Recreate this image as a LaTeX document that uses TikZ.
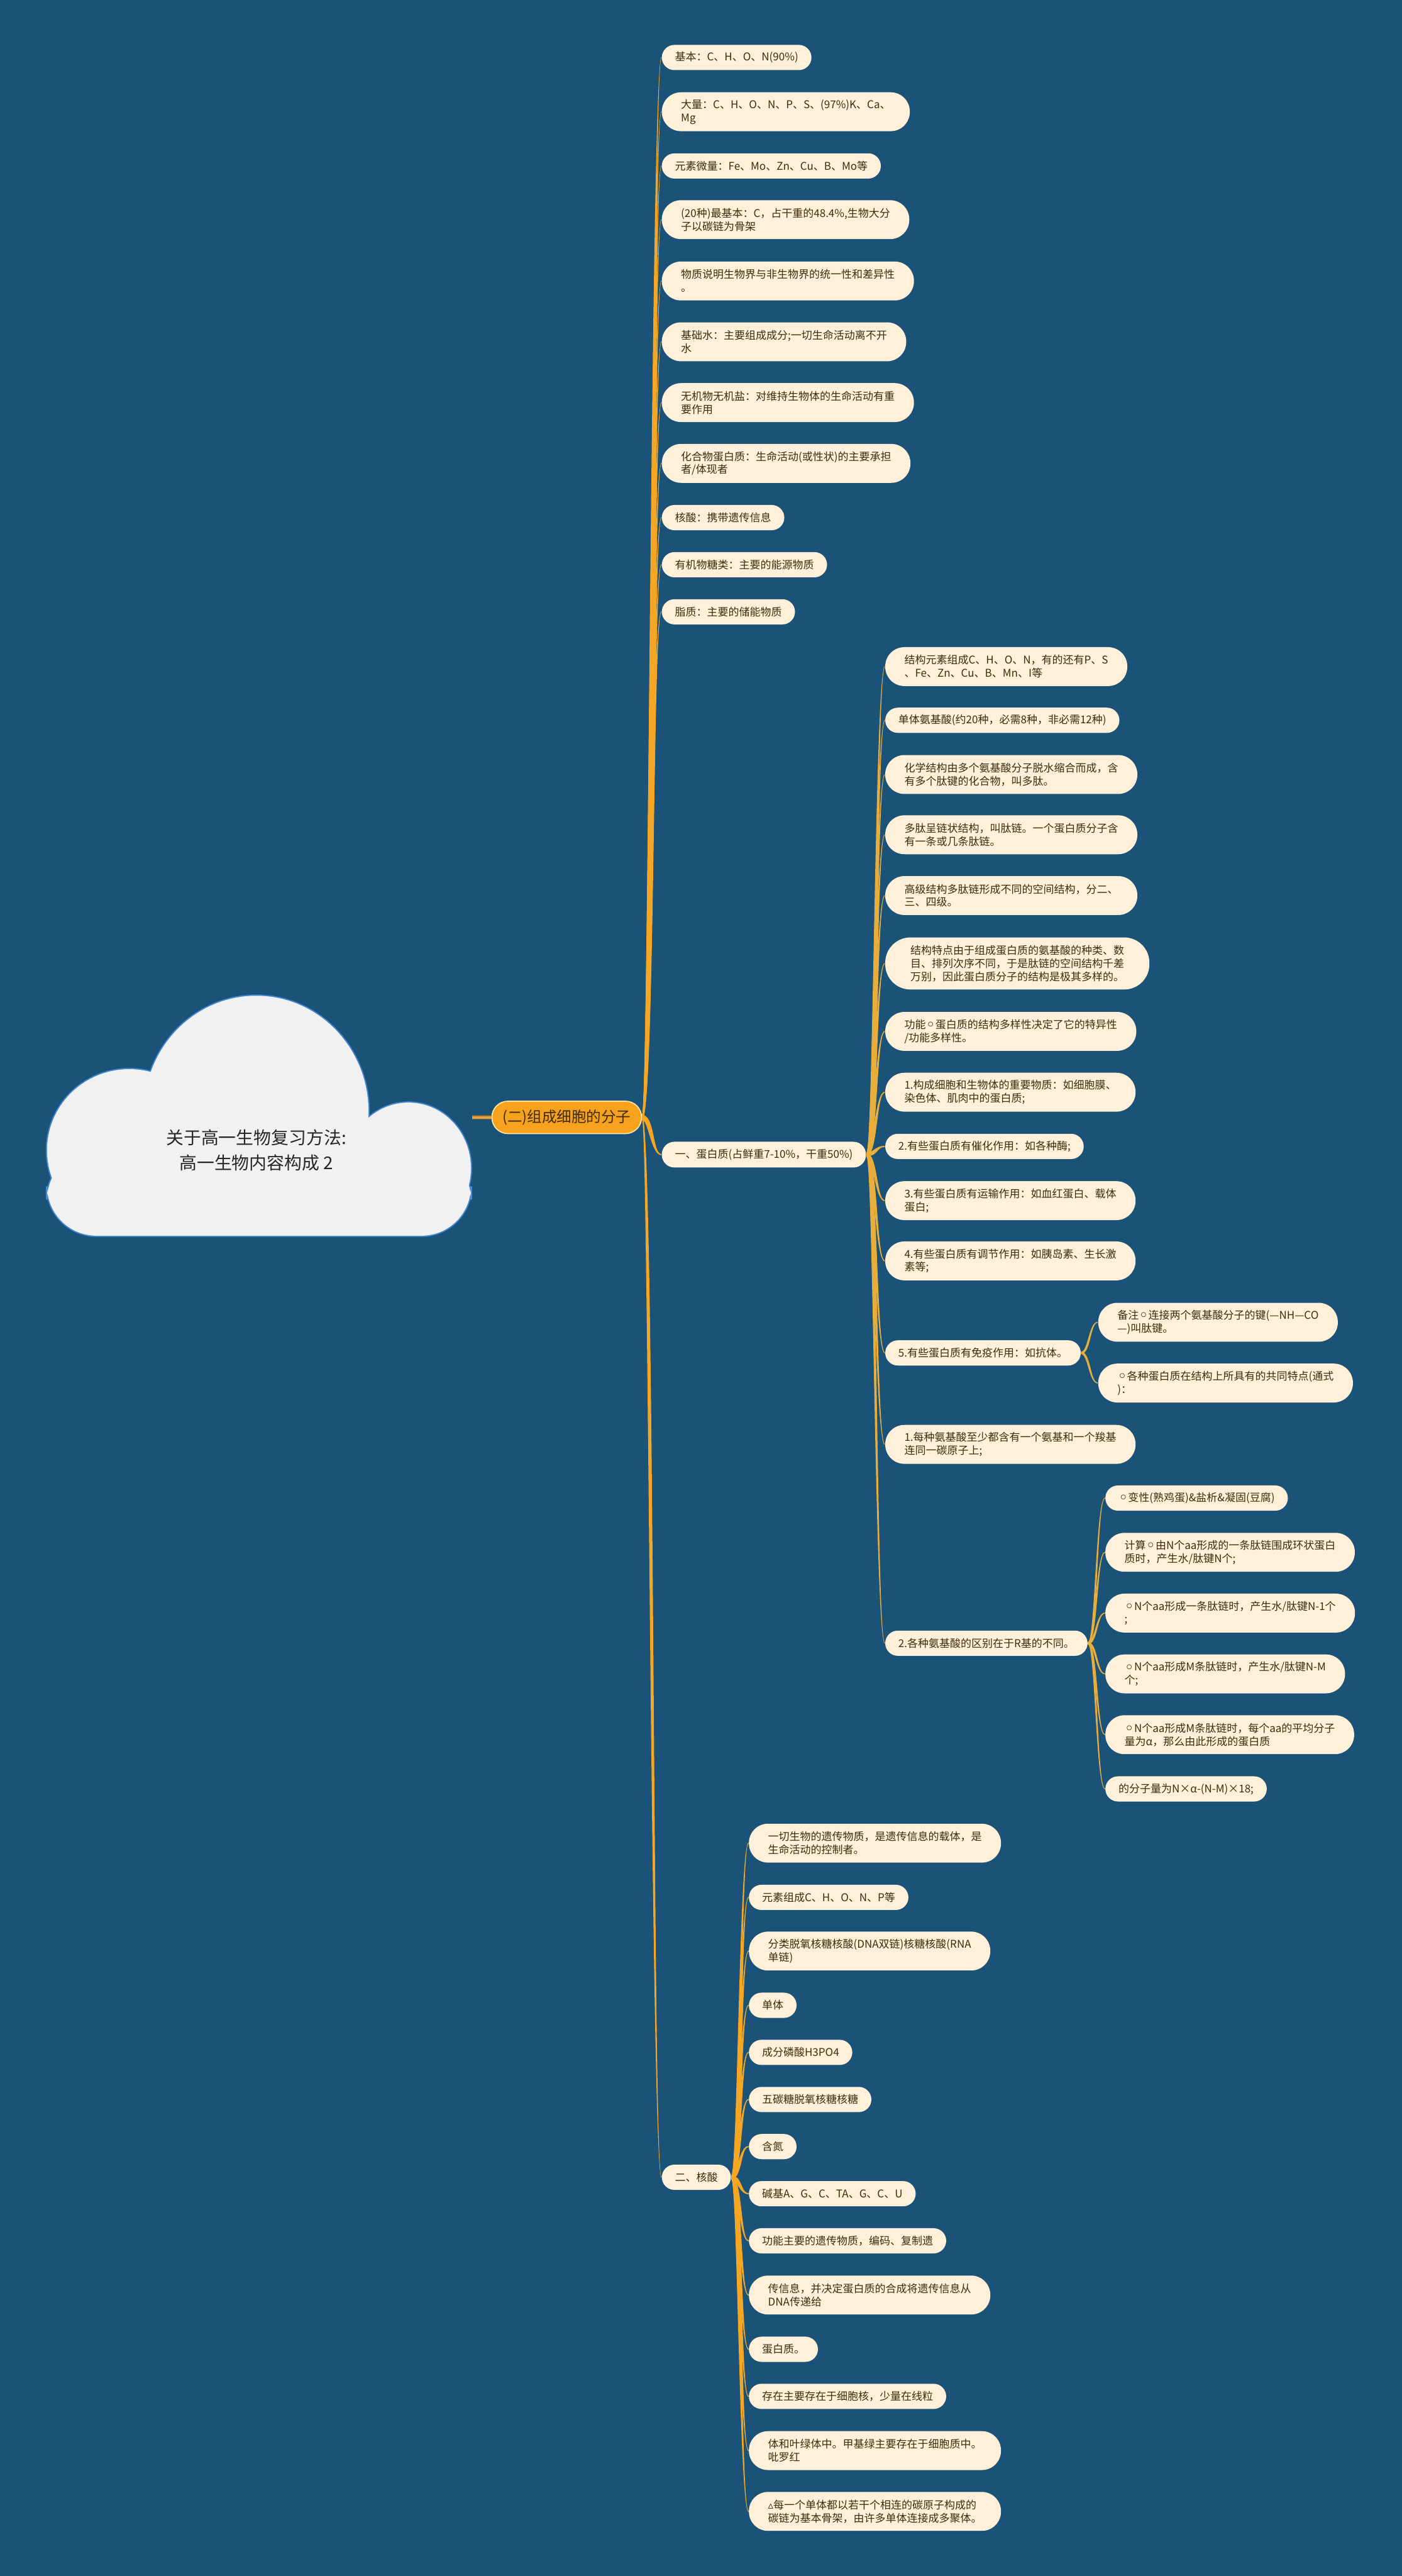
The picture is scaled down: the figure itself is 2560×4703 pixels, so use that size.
\documentclass[tikz,border=0pt]{standalone}
\usepackage{fontspec}
\setmainfont{Noto Sans CJK SC}
\newfontfamily\djv{DejaVu Sans}
\usetikzlibrary{calc}
\definecolor{bg}{HTML}{1A5278}
\definecolor{cream}{HTML}{FEF0D9}
\definecolor{ink}{HTML}{3E2C0E}
\definecolor{trunk}{HTML}{F5A623}
\definecolor{gold}{HTML}{E9AE3A}
\definecolor{rootfill}{HTML}{F7A21E}
\definecolor{rootline}{HTML}{FCE3A6}
\definecolor{cloudfill}{HTML}{F1F1F1}
\definecolor{cloudline}{HTML}{3F86D0}
\definecolor{linkdark}{HTML}{8A6A2A}
\definecolor{linklight}{HTML}{E3A548}
\newcommand\oo{\raisebox{-1.1pt}{\djv\fontsize{8.5pt}{6pt}\selectfont ◦}}
\newcommand\tri{{\djv ▵}}
% tapered connector: #1 from, #2 to, #3 start half width, #4 end half width, #5 colour
\newcommand\conn[5]{%
  \fill[#5] let \p1=(#1), \p2=(#2), \n1={1-2*(\y2>\y1)}, \n2={0.5*(\x2-\x1)},
    \n3={1.333*#3}, \n4={1.333*#4} in
    ({\x1},{\y1+#3}) .. controls ({\x1+\n2+\n1*\n3},{\y1+#3}) and ({\x2-\n2+\n1*\n4},{\y2+#4}) .. ({\x2},{\y2+#4})
    -- ({\x2},{\y2-#4}) .. controls ({\x2-\n2-\n1*\n4},{\y2-#4}) and ({\x1+\n2-\n1*\n3},{\y1-#3}) .. ({\x1},{\y1-#3}) -- cycle;}
\tikzset{
  leaf/.style={fill=cream, text=ink, anchor=west, align=left,
    font=\fontsize{5.55pt}{6.83pt}\selectfont, inner xsep=0.24cm, inner ysep=0.05cm,
    minimum height=0.46cm, rounded corners=0.23cm},
  two/.style={inner xsep=0.35cm, minimum height=0.71cm, rounded corners=0.35cm},
  three/.style={inner xsep=0.46cm, minimum height=0.95cm, rounded corners=0.46cm},
  rootst/.style={fill=rootfill, draw=rootline, line width=0.02cm, text=ink,
    font=\fontsize{7.68pt}{9pt}\selectfont, minimum width=2.73cm, minimum height=0.59cm,
    rounded corners=0.29cm, inner sep=0pt},
  titlest/.style={text=black!85, align=center, font=\fontsize{9.1pt}{13.1pt}\selectfont},
}
\begin{document}
\begin{tikzpicture}[x=0.01cm, y=-0.01cm]
\fill[bg] (0,0) rectangle (2560,4703);
\useasboundingbox (0,0) rectangle (2560,4703);

% cloud
\begin{scope}[cloudline, line width=0.045cm]
  \draw (468,2030) ellipse [x radius=2.05cm, y radius=2.12cm];
  \draw (236,2100) ellipse [x radius=1.5cm, y radius=1.48cm];
  \draw (746,2133) ellipse [x radius=1.14cm, y radius=1.2cm];
  \draw[rounded corners=0.9cm] (86,2100) rectangle (860,2256);
\end{scope}
\begin{scope}[cloudfill]
  \fill (468,2030) ellipse [x radius=2.05cm, y radius=2.12cm];
  \fill (236,2100) ellipse [x radius=1.5cm, y radius=1.48cm];
  \fill (746,2133) ellipse [x radius=1.14cm, y radius=1.2cm];
  \fill[rounded corners=0.9cm] (86,2100) rectangle (860,2256);
\end{scope}
\node[titlest] (title) at (468,2100) {关于高一生物复习方法:\\高一生物内容构成 2};

% root
\node[rootst] (root) at (1035,2040) {(二)组成细胞的分子};
\coordinate (cloudR) at (862,2040);
\draw[line width=0.08cm, linkdark] (cloudR) -- (root.west);
\draw[line width=0.05cm, linklight] (cloudR) -- (root.west);

% level 1
\node[leaf] (L1) at (1208,105) {基本：C、H、O、N(90\%)};
\node[leaf,two] (L2) at (1208,204) {大量：C、H、O、N、P、S、(97\%)K、Ca、\\Mg};
\node[leaf] (L3) at (1208,303) {元素微量：Fe、Mo、Zn、Cu、B、Mo等};
\node[leaf,two] (L4) at (1208,401) {(20种)最基本：C，占干重的48.4\%,生物大分\\子以碳链为骨架};
\node[leaf,two] (L5) at (1208,513) {物质说明生物界与非生物界的统一性和差异性\\。};
\node[leaf,two] (L6) at (1208,624) {基础水：主要组成成分;一切生命活动离不开\\水};
\node[leaf,two] (L7) at (1208,735) {无机物无机盐：对维持生物体的生命活动有重\\要作用};
\node[leaf,two] (L8) at (1208,846) {化合物蛋白质：生命活动(或性状)的主要承担\\者/体现者};
\node[leaf] (L9) at (1208,945) {核酸：携带遗传信息};
\node[leaf] (L10) at (1208,1031) {有机物糖类：主要的能源物质};
\node[leaf] (L11) at (1208,1117) {脂质：主要的储能物质};
\node[leaf, minimum height=0.47cm] (A) at (1208,2108) {一、蛋白质(占鲜重7-10\%，干重50\%)};
\node[leaf] (B) at (1208,3975) {二、核酸};

% protein
\node[leaf,two] (P1) at (1616,1217) {结构元素组成C、H、O、N，有的还有P、S\\、Fe、Zn、Cu、B、Mn、I等};
\node[leaf] (P2) at (1616,1315) {单体氨基酸(约20种，必需8种，非必需12种)};
\node[leaf,two] (P3) at (1616,1414) {化学结构由多个氨基酸分子脱水缩合而成，含\\有多个肽键的化合物，叫多肽。};
\node[leaf,two] (P4) at (1616,1524) {多肽呈链状结构，叫肽链。一个蛋白质分子含\\有一条或几条肽链。};
\node[leaf,two] (P5) at (1616,1635) {高级结构多肽链形成不同的空间结构，分二、\\三、四级。};
\node[leaf,three] (P6) at (1616,1759) {结构特点由于组成蛋白质的氨基酸的种类、数\\目、排列次序不同，于是肽链的空间结构千差\\万别，因此蛋白质分子的结构是极其多样的。};
\node[leaf,two] (P7) at (1616,1883) {功能\oo 蛋白质的结构多样性决定了它的特异性\\/功能多样性。};
\node[leaf,two] (P8) at (1616,1994) {1.构成细胞和生物体的重要物质：如细胞膜、\\染色体、肌肉中的蛋白质;};
\node[leaf] (P9) at (1616,2093) {2.有些蛋白质有催化作用：如各种酶;};
\node[leaf,two] (P10) at (1616,2192) {3.有些蛋白质有运输作用：如血红蛋白、载体\\蛋白;};
\node[leaf,two] (P11) at (1616,2302) {4.有些蛋白质有调节作用：如胰岛素、生长激\\素等;};
\node[leaf] (P12) at (1616,2470) {5.有些蛋白质有免疫作用：如抗体。};
\node[leaf,two] (P13) at (1616,2637) {1.每种氨基酸至少都含有一个氨基和一个羧基\\连同一碳原子上;};
\node[leaf] (P14) at (1616,3000) {2.各种氨基酸的区别在于R基的不同。};

\node[leaf,two] (C1) at (2005,2414) {备注\oo 连接两个氨基酸分子的键(—NH—CO\\—)叫肽键。};
\node[leaf,two] (C2) at (2005,2525) {\oo 各种蛋白质在结构上所具有的共同特点(通式\\)：};

\node[leaf] (D1) at (2018,2735) {\oo 变性(熟鸡蛋)\&盐析\&凝固(豆腐)};
\node[leaf,two] (D2) at (2018,2834) {计算\oo 由N个aa形成的一条肽链围成环状蛋白\\质时，产生水/肽键N个;};
\node[leaf,two] (D3) at (2018,2945) {\oo N个aa形成一条肽链时，产生水/肽键N-1个\\;};
\node[leaf,two] (D4) at (2018,3056) {\oo N个aa形成M条肽链时，产生水/肽键N-M\\个;};
\node[leaf,two] (D5) at (2018,3167) {\oo N个aa形成M条肽链时，每个aa的平均分子\\量为α，那么由此形成的蛋白质};
\node[leaf] (D6) at (2018,3266) {的分子量为N×α-(N-M)×18;};

% nucleic acid
\node[leaf,two] (N1) at (1367,3365) {一切生物的遗传物质，是遗传信息的载体，是\\生命活动的控制者。};
\node[leaf] (N2) at (1367,3464) {元素组成C、H、O、N、P等};
\node[leaf,two] (N3) at (1367,3562) {分类脱氧核糖核酸(DNA双链)核糖核酸(RNA\\单链)};
\node[leaf] (N4) at (1367,3661) {单体};
\node[leaf] (N5) at (1367,3747) {成分磷酸H3PO4};
\node[leaf] (N6) at (1367,3833) {五碳糖脱氧核糖核糖};
\node[leaf] (N7) at (1367,3919) {含氮};
\node[leaf] (N8) at (1367,4005) {碱基A、G、C、TA、G、C、U};
\node[leaf] (N9) at (1367,4091) {功能主要的遗传物质，编码、复制遗};
\node[leaf,two] (N10) at (1367,4190) {传信息，并决定蛋白质的合成将遗传信息从\\DNA传递给};
\node[leaf] (N11) at (1367,4289) {蛋白质。};
\node[leaf] (N12) at (1367,4375) {存在主要存在于细胞核，少量在线粒};
\node[leaf,two] (N13) at (1367,4474) {体和叶绿体中。甲基绿主要存在于细胞质中。\\吡罗红};
\node[leaf,two] (N14) at (1367,4585) {\tri 每一个单体都以若干个相连的碳原子构成的\\碳链为基本骨架，由许多单体连接成多聚体。};

% connectors
\foreach \c in {L1,L2,L3,L4,L5,L6,L7,L8,L9,L10,L11,A,B}
  {\conn{root.east}{\c.west}{1.3pt}{0.3pt}{trunk}}
\foreach \c in {P1,P2,P3,P4,P5,P6,P7,P8,P9,P10,P11,P12,P13,P14}
  {\conn{A.east}{\c.west}{0.9pt}{0.3pt}{gold}}
\foreach \c in {N1,N2,N3,N4,N5,N6,N7,N8,N9,N10,N11,N12,N13,N14}
  {\conn{B.east}{\c.west}{1.0pt}{0.3pt}{trunk}}
\foreach \c in {C1,C2}
  {\conn{P12.east}{\c.west}{0.6pt}{0.25pt}{gold}}
\foreach \c in {D1,D2,D3,D4,D5,D6}
  {\conn{P14.east}{\c.west}{0.6pt}{0.25pt}{gold}}
\end{tikzpicture}
\end{document}
